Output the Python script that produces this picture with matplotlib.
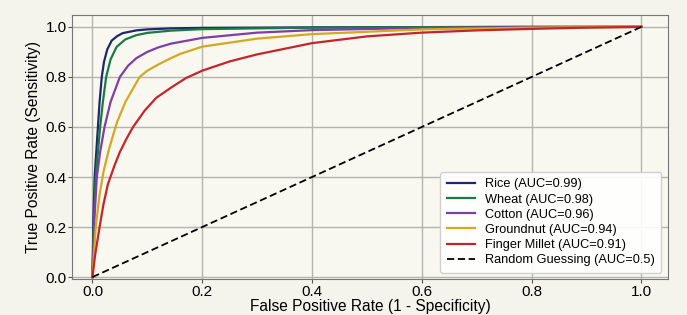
import matplotlib
matplotlib.use("Agg")
import matplotlib.pyplot as plt

plt.rcParams['font.family'] = ['Liberation Sans', 'DejaVu Sans']

rice_fpr = [0, 0.002, 0.004, 0.007, 0.010, 0.013, 0.017, 0.021, 0.027, 0.035, 0.045, 0.055, 0.08, 0.10, 0.143, 0.2, 0.4, 0.6, 0.8, 1.0]
rice_tpr = [0, 0.25, 0.4, 0.5, 0.6, 0.7, 0.8, 0.86, 0.91, 0.945, 0.963, 0.975, 0.986, 0.99, 0.994, 0.996, 0.998, 0.999, 1.0, 1.0]

wheat_fpr = [0, 0.003, 0.006, 0.010, 0.014, 0.019, 0.025, 0.033, 0.044, 0.06, 0.08, 0.10, 0.143, 0.2, 0.4, 0.6, 0.8, 1.0]
wheat_tpr = [0, 0.25, 0.4, 0.5, 0.6, 0.7, 0.8, 0.87, 0.92, 0.95, 0.967, 0.976, 0.985, 0.991, 0.997, 0.999, 1.0, 1.0]

cotton_fpr = [0, 0.004, 0.008, 0.014, 0.022, 0.033, 0.05, 0.065, 0.08, 0.10, 0.12, 0.143, 0.2, 0.3, 0.4, 0.6, 0.8, 1.0]
cotton_tpr = [0, 0.25, 0.4, 0.5, 0.6, 0.7, 0.8, 0.845, 0.875, 0.9, 0.918, 0.933, 0.956, 0.977, 0.987, 0.996, 0.999, 1.0]

gnut_fpr = [0, 0.006, 0.013, 0.020, 0.030, 0.038, 0.045, 0.06, 0.086, 0.10, 0.122, 0.143, 0.16, 0.2, 0.3, 0.4, 0.6, 0.8, 1.0]
gnut_tpr = [0, 0.2, 0.33, 0.42, 0.51, 0.57, 0.62, 0.7, 0.8, 0.825, 0.852, 0.875, 0.892, 0.921, 0.953, 0.971, 0.99, 0.997, 1.0]

millet_fpr = [0, 0.005, 0.013, 0.020, 0.028, 0.040, 0.050, 0.062, 0.074, 0.095, 0.116, 0.143, 0.17, 0.2, 0.25, 0.3, 0.4, 0.5, 0.6, 0.7, 0.8, 0.9, 1.0]
millet_tpr = [0, 0.09, 0.2, 0.29, 0.37, 0.445, 0.5, 0.553, 0.6, 0.665, 0.716, 0.757, 0.795, 0.825, 0.862, 0.89, 0.935, 0.962, 0.977, 0.986, 0.992, 0.997, 1.0]

random_fpr = [0, 1]
random_tpr = [0, 1]

labels = ["Rice (AUC=0.99)", "Wheat (AUC=0.98)", "Cotton (AUC=0.96)",
          "Groundnut (AUC=0.94)", "Finger Millet (AUC=0.91)"]
colors = ["#1c2a6b", "#1b7a42", "#7d3fa3", "#d4a820", "#c3262a"]
series = [(rice_fpr, rice_tpr), (wheat_fpr, wheat_tpr), (cotton_fpr, cotton_tpr),
          (gnut_fpr, gnut_tpr), (millet_fpr, millet_tpr)]

fig = plt.figure(figsize=(6.87, 3.15), dpi=100, facecolor="#f5f4ec")
ax = fig.add_axes([0.105, 0.114, 0.867, 0.838], facecolor="#f8f7f0")

for (x, y), lab, c in zip(series, labels, colors):
    ax.plot(x, y, color=c, lw=1.6, label=lab, solid_joinstyle="round")
ax.plot(random_fpr, random_tpr, color="black", lw=1.3, ls=(0, (4, 2)),
        label="Random Guessing (AUC=0.5)")

ax.set_xlim(-0.037, 1.048)
ax.set_ylim(-0.008, 1.047)
ax.set_xticks([0, 0.2, 0.4, 0.6, 0.8, 1.0])
ax.set_yticks([0, 0.2, 0.4, 0.6, 0.8, 1.0])
ax.tick_params(labelsize=11, color="#555555", length=3, pad=1)
ax.grid(True, color="#b5b5b0", lw=1.0)
ax.set_axisbelow(True)
for s in ax.spines.values():
    s.set_color("#777777")
ax.set_xlabel("False Positive Rate (1 - Specificity)", fontsize=11.2, labelpad=0)
ax.set_ylabel("True Positive Rate (Sensitivity)", fontsize=11.2, labelpad=3)

leg = ax.legend(loc="lower right", fontsize=9.2, frameon=True, fancybox=True,
                framealpha=0.9, edgecolor="#cccccc", facecolor="white",
                handlelength=2.2, labelspacing=0.25, borderpad=0.5)

fig.savefig("out.png", dpi=100, facecolor=fig.get_facecolor())
